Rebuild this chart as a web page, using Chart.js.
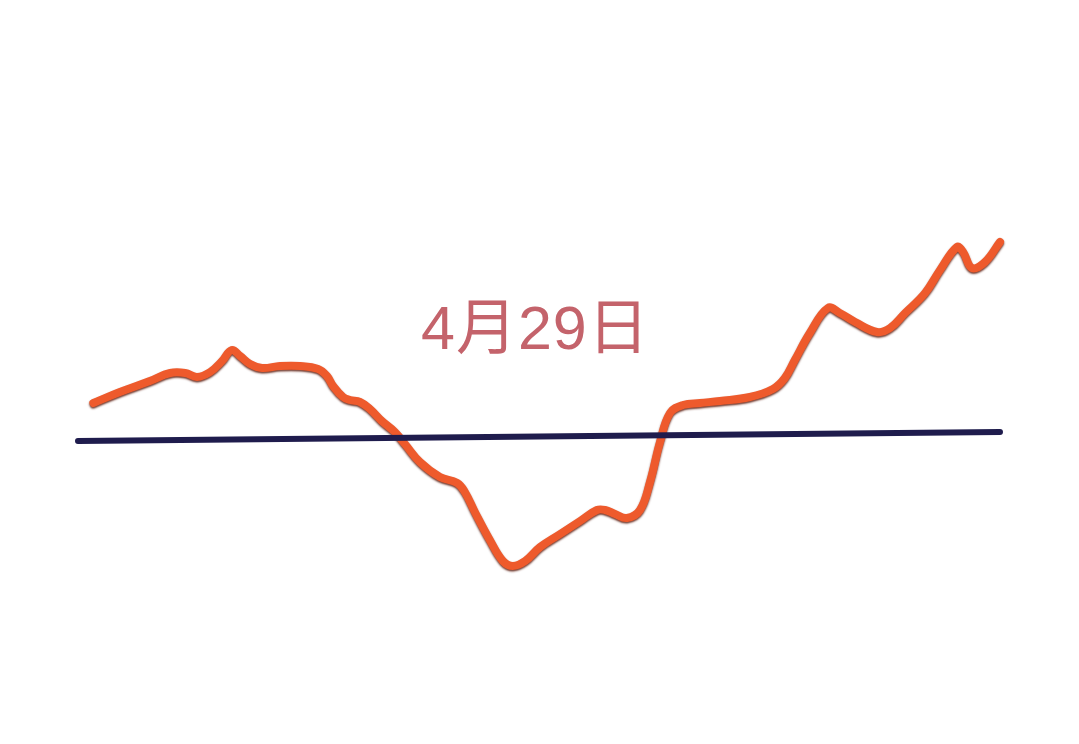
<!DOCTYPE html>
<html>
<head>
<meta charset="utf-8">
<script src="https://cdn.jsdelivr.net/npm/chart.js@4"></script>
<style>
  html, body { margin: 0; padding: 0; background: #fff; }
  #wrap { position: relative; width: 1079px; height: 744px; }
  #dateLabel {
    position: absolute; left: 421px; top: 298px;
    font-family: 'Liberation Sans', 'Noto Sans CJK SC', sans-serif;
    font-size: 61px; color: #c4636b; line-height: 1; letter-spacing: 1px;
  }
</style>
</head>
<body>
<div id="wrap">
  <canvas id="dayChart" width="1079" height="744"></canvas>
  <div id="dateLabel">4月29日</div>
</div>
<script>
// --- Data (minutes into the session, % change) ---
const minutes = [4, 10.9, 18.7, 24, 27.9, 31, 34.4, 37.5, 40, 42.2, 44.8, 47.9, 52.6, 57.8, 62.5, 64.8,
    66.4, 69, 70.8, 73.4, 76, 79.1, 82.5, 85.1, 89, 94.2, 98.7, 100.7, 103.3, 107.2, 110.6, 113.2,
    116.4, 120.3, 125.5, 130.7, 135.1, 137.2, 139.8, 142.9, 146.3, 148.9, 151.5, 154.1, 157.5, 161.9,
    167.1, 174.9, 180.9, 184, 186.6, 190.5, 195.2, 198.3, 202.3, 208, 211.4, 215.3, 220.5, 224.4,
    228.8, 230.4, 232.7, 236.1, 240];
const priceChange = [0.38, 0.49, 0.60, 0.68, 0.68, 0.64, 0.69, 0.80, 0.91, 0.85, 0.77, 0.73, 0.75, 0.75, 0.72, 0.65,
    0.55, 0.44, 0.41, 0.39, 0.32, 0.20, 0.09, -0.03, -0.21, -0.36, -0.42, -0.51, -0.71, -0.99, -1.20, -1.25,
    -1.20, -1.06, -0.93, -0.80, -0.69, -0.69, -0.73, -0.77, -0.69, -0.41, -0.01, 0.28, 0.36, 0.38,
    0.40, 0.44, 0.52, 0.63, 0.81, 1.08, 1.33, 1.28, 1.19, 1.09, 1.13, 1.28, 1.48, 1.71,
    1.94, 1.89, 1.73, 1.79, 1.99];
const avgMinutes = [0, 240];
const avgChange = [0, 0.09];

const toPoints = (xs, ys) => xs.map((x, i) => ({ x: x, y: ys[i] }));

// shadow under the orange line so it looks embossed
const lineShadow = {
    id: 'lineShadow',
    beforeDatasetDraw(chart, args) {
        if (args.index !== 1) return;
        const c = chart.ctx;
        c.save();
        c.shadowColor = 'rgba(90, 25, 10, 0.85)';
        c.shadowBlur = 2;
        c.shadowOffsetY = 1.5;
    },
    afterDatasetDraw(chart, args) {
        if (args.index !== 1) return;
        chart.ctx.restore();
    }
};

const ctx = document.getElementById('dayChart').getContext('2d');
new Chart(ctx, {
    type: 'line',
    data: {
        datasets: [{
            data: toPoints(avgMinutes, avgChange),
            borderColor: '#1f1c4d',
            borderWidth: 6,
            pointRadius: 0,
            borderCapStyle: 'round'
        }, {
            data: toPoints(minutes, priceChange),
            borderColor: '#ee5a2c',
            borderWidth: 8,
            pointRadius: 0,
            tension: 0.4,
            borderCapStyle: 'round',
            borderJoinStyle: 'round'
        }]
    },
    options: {
        responsive: false,
        animation: false,
        clip: false,
        layout: { padding: { left: 78, right: 79, top: 0, bottom: 0 } },
        plugins: { legend: { display: false }, tooltip: { enabled: false } },
        scales: {
            x: { type: 'linear', min: 0, max: 240, display: false },
            y: { min: -3.03, max: 4.41, display: false }
        }
    },
    plugins: [lineShadow]
});
</script>
</body>
</html>
